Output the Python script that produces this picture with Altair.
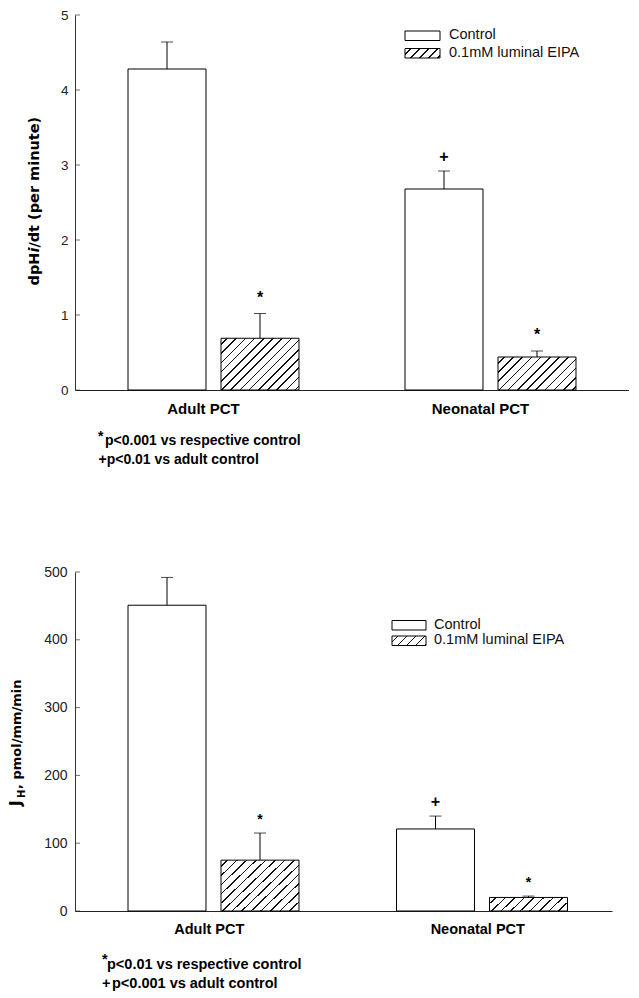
import altair as alt
import pandas as pd

# ---------------- data ----------------
groups = ["Adult PCT", "Neonatal PCT"]
treatments = ["Control", "0.1mM luminal EIPA"]

top_values = [4.28, 0.69, 2.68, 0.44]
top_errors = [0.36, 0.33, 0.24, 0.08]
top_markers = ["", "*", "+", "*"]
top_ticks = [0, 1, 2, 3, 4, 5]

bottom_values = [451, 75, 121, 20]
bottom_errors = [41, 40, 19, 2]
bottom_markers = ["", "*", "+", "*"]
bottom_ticks = [0, 100, 200, 300, 400, 500]

top_title = ["dpH", "i", "/dt (per minute)"]
bottom_title = ["J", "H", ", pmol/mm/min"]
top_notes = ["*", "p<0.001 vs respective control", "+p<0.01 vs adult control"]
bottom_notes = ["*", "p<0.01 vs respective control", "+", "p<0.001 vs adult control"]

FONT = "Liberation Sans"
TFONT = "DejaVu Sans"


def hatch(w, h, spacing=9.2, lw=1.5, color="#111111"):
    """45-degree '/' hatching as a linear gradient with hard stops."""
    L = w + h
    s = L * w / (w * w + h * h)
    stops = [alt.GradientStop(offset=0, color="white")]
    c = spacing * 0.6
    while c + lw < L:
        a = round(c / L, 5)
        b = round((c + lw) / L, 5)
        stops += [
            alt.GradientStop(offset=a, color="white"),
            alt.GradientStop(offset=a, color=color),
            alt.GradientStop(offset=b, color=color),
            alt.GradientStop(offset=b, color="white"),
        ]
        c += spacing
    stops.append(alt.GradientStop(offset=1, color="white"))
    return alt.LinearGradient(gradient="linear", stops=stops,
                              x1=0, y1=0, x2=round(s, 5), y2=round(s * h / w, 5))


def panel(values, errors, markers, ticks, ymax, W, H, pin, pout, bar_w,
          tick_font, tick_pad, xlab_size, xlab_pad, xlab_off,
          star_dy, star_size, plus_dy,
          legend, titles, notes):
    rows = []
    i = 0
    for g in groups:
        for t in treatments:
            rows.append({"group": g, "treatment": t, "value": values[i],
                         "upper": values[i] + errors[i], "marker": markers[i]})
            i += 1
    df = pd.DataFrame(rows)
    base = alt.Chart(df)

    X = alt.X("group:N", sort=groups,
              scale=alt.Scale(paddingInner=0, paddingOuter=0),
              axis=alt.Axis(title=None, labelAngle=0, ticks=False, tickSize=0,
                            labelFont=FONT, labelFontWeight="bold",
                            labelFontSize=xlab_size, labelColor="black",
                            labelPadding=xlab_pad, labelOffset=xlab_off,
                            domainColor="#222222", domainWidth=1))
    XO = alt.XOffset("treatment:N", sort=treatments,
                     scale=alt.Scale(paddingInner=pin, paddingOuter=pout))
    yaxis = alt.Axis(title=None, values=ticks, grid=False, ticks=False, tickSize=0,
                     labelFont=FONT, labelFontSize=tick_font, labelColor="#222222",
                     labelPadding=tick_pad, domainColor="#333333", domainWidth=1)
    yscale = alt.Scale(domain=[0, ymax], nice=False, zero=True)

    def Y(f):
        return alt.Y(f + ":Q", scale=yscale, axis=yaxis)

    layers = []
    # control bars
    layers.append(base.transform_filter(alt.datum.treatment == treatments[0])
                  .mark_bar(fill="white", stroke="black", strokeWidth=1)
                  .encode(x=X, xOffset=XO, y=Y("value")))
    # hatched bars
    for r in rows:
        if r["treatment"] == treatments[1]:
            h = r["value"] / ymax * H
            layers.append(base.transform_filter((alt.datum.group == r["group"]) &
                                                (alt.datum.treatment == r["treatment"]))
                          .mark_bar(fill=hatch(bar_w, h), stroke="black", strokeWidth=1)
                          .encode(x=X, xOffset=XO, y=Y("value")))
    # error bars
    layers.append(base.mark_rule(color="black", strokeWidth=1)
                  .encode(x=X, xOffset=XO, y=Y("value"), y2="upper:Q"))
    layers.append(base.mark_tick(color="black", thickness=1, size=12, orient="horizontal")
                  .encode(x=X, xOffset=XO, y=Y("upper")))
    # significance markers
    layers.append(base.transform_filter(alt.datum.marker == "*")
                  .mark_text(font=FONT, fontWeight="bold", fontSize=star_size,
                             baseline="alphabetic", dy=star_dy, color="black")
                  .encode(x=X, xOffset=XO, y=Y("upper"), text="marker:N"))
    layers.append(base.transform_filter(alt.datum.marker == "+")
                  .mark_text(font=FONT, fontWeight="bold", fontSize=16,
                             baseline="alphabetic", dy=plus_dy, color="black")
                  .encode(x=X, xOffset=XO, y=Y("upper"), text="marker:N"))
    # inward y ticks
    layers.append(alt.Chart(pd.DataFrame({"value": ticks}))
                  .mark_tick(color="#333333", thickness=1, size=5, orient="horizontal")
                  .encode(y=Y("value"), x=alt.value(2.5)))

    # legend
    lx0, lx1, ly, lh, lgap, ltx = legend
    for k, t in enumerate(treatments):
        y0 = ly + k * lgap
        d = alt.Chart(pd.DataFrame({"label": [t]}))
        fill = "white" if k == 0 else hatch(lx1 - lx0, lh, spacing=9)
        layers.append(d.mark_rect(fill=fill, stroke="black", strokeWidth=1)
                      .encode(x=alt.value(lx0), x2=alt.value(lx1),
                              y=alt.value(y0), y2=alt.value(y0 + lh)))
        layers.append(d.mark_text(align="left", baseline="alphabetic", font=FONT,
                                  fontSize=14.5, color="#111111")
                      .encode(x=alt.value(ltx), y=alt.value(y0 + lh - 1.5), text="label:N"))

    # y title pieces (rotated)
    for (txt, xpos, ypos, size, style, fnt) in titles:
        layers.append(alt.Chart(pd.DataFrame({"label": [txt]}))
                      .mark_text(angle=270, align="left", baseline="alphabetic",
                                 font=fnt, fontWeight="bold", fontStyle=style,
                                 fontSize=size, color="black")
                      .encode(x=alt.value(xpos), y=alt.value(ypos), text="label:N"))
    # footnotes
    for (txt, xpos, ypos, size) in notes:
        layers.append(alt.Chart(pd.DataFrame({"label": [txt]}))
                      .mark_text(align="left", baseline="alphabetic", font=FONT,
                                 fontWeight="bold", fontSize=size, color="black")
                      .encode(x=alt.value(xpos), y=alt.value(ypos), text="label:N"))

    return alt.layer(*layers).properties(width=W, height=H)


top = panel(top_values, top_errors, top_markers, top_ticks, 5, 554, 375,
            0.1613, 0.5699, 78,
            13.5, 7, 15, 11, -10,
            -11, 16, -9,
            (330, 365, 16, 9.5, 17.5, 374),
            [(top_title[0], -36, 270.5, 14.5, "normal", TFONT),
             (top_title[1], -36, 237.6, 14.5, "italic", TFONT),
             (top_title[2], -36, 232.6, 14.5, "normal", TFONT)],
            [(top_notes[0], 23, 426, 14),
             (top_notes[1], 30, 430, 14),
             (top_notes[2], 23.5, 448.5, 14)])

bottom = panel(bottom_values, bottom_errors, bottom_markers, bottom_ticks, 500, 537, 339,
               0.1667, 0.575, 75,
               14, 8, 14.5, 11.5, 0,
               -9, 14, -9,
               (317, 351, 48.5, 9.5, 15.5, 359),
               [(bottom_title[0], -54.5, 234, 15, "normal", TFONT),
                (bottom_title[1], -50, 226, 10, "normal", TFONT),
                (bottom_title[2], -54.5, 217, 13, "normal", TFONT)],
               [(bottom_notes[0], 27, 392, 14.5),
                (bottom_notes[1], 32, 397, 14.5),
                (bottom_notes[2], 27, 416, 14.5),
                (bottom_notes[3], 37, 416, 14.5)])

chart = (alt.vconcat(top, bottom, spacing=182, bounds="flush")
         .configure_view(stroke=None)
         .properties(padding=0))

chart.save("out.html", embed_options={"renderer": "svg", "actions": False})
